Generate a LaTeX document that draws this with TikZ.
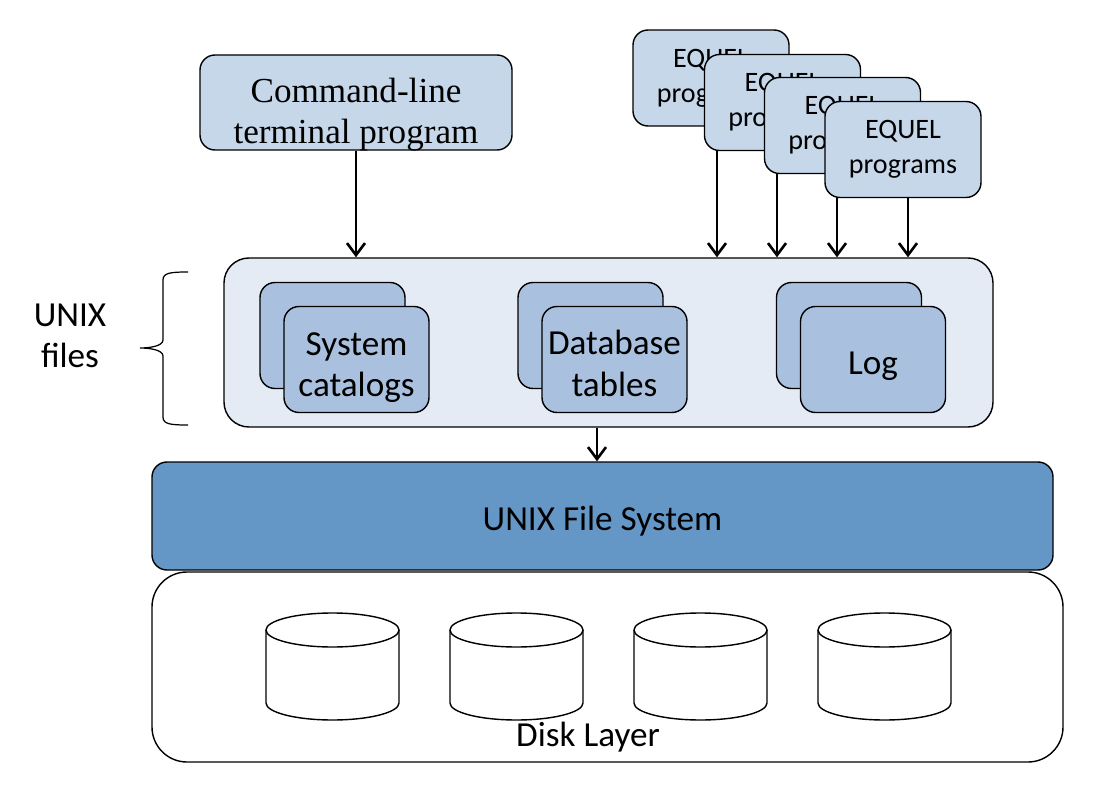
\documentclass[tikz,border=0pt]{standalone}
\usepackage{fontspec}
\setmainfont{Liberation Serif}
\newfontfamily\calib{Carlito}
\usetikzlibrary{arrows.meta,backgrounds}
\definecolor{boxblue}{HTML}{C6D7EA}
\definecolor{paleblue}{HTML}{E4EBF5}
\definecolor{midblue}{HTML}{A9C1DE}
\definecolor{fsblue}{HTML}{6497C6}

\begin{document}
\begin{tikzpicture}[
  arr/.style={-{Straight Barb[length=2.4mm,width=3.6mm,line width=1.5pt]},line width=0.8pt},
  prog/.style={draw,line width=0.8pt,fill=boxblue,rounded corners=0.3cm,align=center,inner sep=0pt},
  eqbox/.style={prog,minimum width=3.12cm,minimum height=1.92cm,font=\calib\fontsize{16}{20}\selectfont},
  filebox/.style={draw,line width=0.8pt,fill=midblue,rounded corners=0.3cm,minimum width=2.9cm,minimum height=2.12cm},
  lbl/.style={align=center,inner sep=0pt,font=\calib\fontsize{20}{23.5}\selectfont}]
\useasboundingbox (0,0) rectangle (21.88,-15.88);

% programs on top
\node[prog,minimum width=6.24cm,minimum height=1.9cm] (cmd) at (7.12,-2.05) {};
\node[align=center,inner sep=0pt,font=\fontsize{20}{23.5}\selectfont] (cmdtxt) at ([yshift=-2.4mm]cmd.center) {Command-line\\terminal program};
\node[eqbox] (eq1) at (14.22,-1.56) {EQUEL\\programs};
\node[eqbox] (eq2) at (15.65,-2.05) {EQUEL\\programs};
\node[eqbox] (eq3) at (16.85,-2.51) {EQUEL\\programs};
\node[eqbox] (eq4) at (18.06,-2.99) {EQUEL\\programs};

% unix files
\node[draw,line width=0.8pt,fill=paleblue,rounded corners=0.5cm,minimum width=15.38cm,minimum height=3.38cm] (files) at (12.17,-6.85) {};
\node[filebox] (sysb) at (6.65,-6.71) {};
\node[filebox] (sys) at (7.13,-7.19) {};
\node[lbl] (systxt) at ([yshift=-1.6mm]sys.center) {System\\catalogs};
\node[filebox] (dbb) at (11.81,-6.71) {};
\node[filebox] (db) at (12.29,-7.19) {};
\node[lbl] (dbtxt) at ([yshift=-0.8mm]db.center) {Database\\tables};
\node[filebox] (logb) at (16.98,-6.71) {};
\node[filebox] (log) at (17.46,-7.19) {};
\node[lbl] (logtxt) at ([yshift=-1.4mm]log.center) {Log};

\begin{scope}[on background layer]
\draw[arr] (14.34,0 |- eq1.south) -- (14.34,0 |- files.north);
\draw[arr] (15.54,0 |- eq2.south) -- (15.54,0 |- files.north);
\draw[arr] (16.74,0 |- eq3.south) -- (16.74,0 |- files.north);
\draw[arr] (18.16,0 |- eq4.south) -- (18.16,0 |- files.north);
\end{scope}
\draw[arr] (cmd.south) -- (cmd.south |- files.north);

% brace + label
\draw[line width=0.7pt] (3.76,-5.44) .. controls (3.4,-5.44) and (3.26,-5.46) .. (3.26,-5.6) -- (3.26,-6.8)
  .. controls (3.26,-6.92) and (3.0,-6.96) .. (2.8,-6.96) .. controls (3.0,-6.96) and (3.26,-7.0) .. (3.26,-7.12)
  -- (3.26,-8.34) .. controls (3.26,-8.48) and (3.4,-8.5) .. (3.76,-8.5);
\node[lbl] (unixlbl) at (1.4,-6.72) {UNIX\\files};

% file system and disks
\node[draw,line width=0.8pt,fill=fsblue,rounded corners=0.3cm,minimum width=18.02cm,minimum height=2.16cm] (fs) at (12.05,-10.32) {};
\node[lbl] (fstxt) at ([yshift=-1.1mm]fs.center) {UNIX File System};
\draw[arr] (11.94,0 |- files.south) -- (11.94,0 |- fs.north);

\node[draw,line width=0.8pt,rounded corners=0.7cm,minimum width=18.22cm,minimum height=3.8cm] (disk) at (12.15,-13.34) {};
\node[lbl] (disklbl) at (11.76,-14.74) {Disk Layer};

\draw[line width=0.8pt] (5.32,-12.6) -- (5.32,-14.06) arc (180:360:1.33 and 0.34) -- (7.98,-12.6);
\draw[line width=0.8pt] (6.65,-12.6) ellipse (1.33 and 0.34);
\draw[line width=0.8pt] (9.0,-12.6) -- (9.0,-14.06) arc (180:360:1.33 and 0.34) -- (11.66,-12.6);
\draw[line width=0.8pt] (10.33,-12.6) ellipse (1.33 and 0.34);
\draw[line width=0.8pt] (12.68,-12.6) -- (12.68,-14.06) arc (180:360:1.33 and 0.34) -- (15.34,-12.6);
\draw[line width=0.8pt] (14.01,-12.6) ellipse (1.33 and 0.34);
\draw[line width=0.8pt] (16.36,-12.6) -- (16.36,-14.06) arc (180:360:1.33 and 0.34) -- (19.02,-12.6);
\draw[line width=0.8pt] (17.69,-12.6) ellipse (1.33 and 0.34);

\end{tikzpicture}
\end{document}
